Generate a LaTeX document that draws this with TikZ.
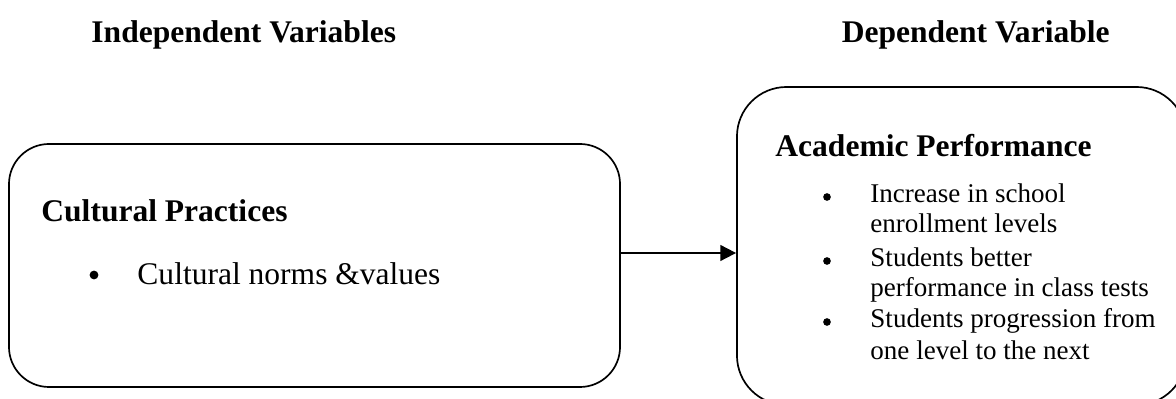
\documentclass[tikz,border=0pt]{standalone}
\usepackage{fontspec}
\setmainfont{Liberation Serif}
\usetikzlibrary{arrows.meta,positioning}
\tikzset{
  varbox/.style ={rectangle, draw=black, line width=0.75pt, inner sep=0pt},
  vhead/.style  ={font=\fontsize{14}{16}\selectfont\bfseries, inner sep=0pt, anchor=base west},
  vitem/.style  ={font=\fontsize{14}{16}\selectfont, inner sep=0pt, anchor=base west},
  vsmall/.style ={font=\fontsize{12}{13.8}\selectfont, inner sep=0pt, anchor=base west},
  vbullet/.style={circle, fill=black, inner sep=0pt, minimum size=3.4pt},
  flow/.style   ={-{Triangle[length=7pt,width=7pt]}, line width=0.8pt, black},
}

\begin{document}
\begin{tikzpicture}[x=0.444pt, y=-0.444pt]
  \useasboundingbox (0,0) rectangle (1176,399);
  % column titles
  \node[vhead] (indep) at (91,43) {Independent Variables};
  \node[vhead, anchor=base east] (dep) at (1110,43) {Dependent Variable};
  % the two boxes
  \node[varbox, minimum width=271.3pt, minimum height=107.9pt, rounded corners=17.8pt]
       (cult) at (314.5,265.5) {};
  \node[varbox, minimum width=199.4pt, minimum height=141.2pt, rounded corners=22pt]
       (acad) at (961.5,246) {};
  % left box text
  \node[vhead] (culthead) at (41,222) {Cultural Practices};
  \node[vbullet, minimum size=3.9pt] (cb1) at (94,275) {};
  \node[vitem] (ci1) at (137,285) {Cultural norms \&values};
  % right box text
  \node[vhead] (acadhead) at (775,157) {Academic Performance};
  \node[vbullet] (ab1) at (827,197) {};
  \node[vsmall] (ai1a) at (870,203) {Increase in school};
  \node[vsmall] (ai1b) at (870,233) {enrollment levels};
  \node[vbullet] (ab2) at (827,261) {};
  \node[vsmall] (ai2a) at (870,267) {Students better};
  \node[vsmall] (ai2b) at (870,297) {performance in class tests};
  \node[vbullet] (ab3) at (827,322) {};
  \node[vsmall] (ai3a) at (870,328) {Students progression from};
  \node[vsmall] (ai3b) at (870,360) {one level to the next};
  % link
  \coordinate (linky) at (0,253);
  \draw[flow] (cult.east |- linky) -- (acad.west |- linky);
\end{tikzpicture}
\end{document}
